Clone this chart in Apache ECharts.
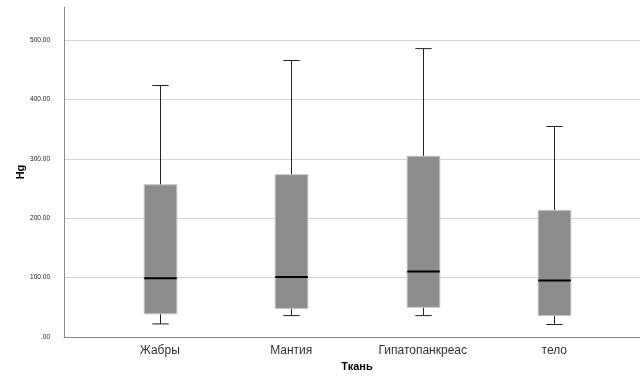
<!DOCTYPE html>
<html><head><meta charset="utf-8">
<script src="https://cdn.jsdelivr.net/npm/echarts@6/dist/echarts.min.js"></script>
<style>html,body{margin:0;padding:0;background:#fff}#c{width:640px;height:380px}</style>
</head><body><div id="c"></div>
<script>
const categories = ['Жабры', 'Мантия', 'Гипатопанкреас', 'тело'];
const minVals = [22, 36, 36, 21];
const q1Vals = [39, 48, 50, 36];
const medianVals = [99, 101, 110, 95];
const q3Vals = [256, 273, 304, 213];
const maxVals = [423, 465, 485, 354];
const yTicks = [0, 100, 200, 300, 400, 500];

const yMin = 0, yMax = 555;
const data = categories.map((c, i) => [i, minVals[i], q1Vals[i], medianVals[i], q3Vals[i], maxVals[i]]);

const chart = echarts.init(document.getElementById('c'), null, {renderer: 'canvas'});
const fmt = v => (v === 0 ? '.00' : v.toFixed(2));
const FONT = 'Liberation Sans, Arial';
chart.setOption({
  animation: false,
  grid: [
    {left: 94, right: 20, top: 7, bottom: 43},
    {left: 64, right: 0, top: 40, bottom: 43}
  ],
  xAxis: [
    {type: 'category', gridIndex: 0, data: categories, boundaryGap: true,
     axisLine: {show: false}, axisTick: {show: false},
     axisLabel: {color: '#333', fontSize: 12, fontFamily: FONT, margin: 8},
     name: 'Ткань', nameLocation: 'middle', nameGap: 21,
     nameTextStyle: {color: '#000', fontWeight: 'bold', fontSize: 11, fontFamily: FONT}},
    {type: 'value', gridIndex: 1, min: 0, max: 1,
     axisLine: {show: true, onZero: false, lineStyle: {color: '#8a8a8a', width: 1}},
     axisTick: {show: false}, axisLabel: {show: false}, splitLine: {show: false}}
  ],
  yAxis: [
    {type: 'value', gridIndex: 0, min: yMin, max: yMax, offset: 30,
     axisLine: {show: true, lineStyle: {color: '#8a8a8a', width: 1}},
     axisTick: {show: false}, axisLabel: {show: false}, splitLine: {show: false},
     name: 'Hg', nameLocation: 'middle', nameGap: 38, nameRotate: 90,
     nameTextStyle: {color: '#000', fontWeight: 'bold', fontSize: 11, fontFamily: FONT}},
    {type: 'value', gridIndex: 1, min: 0, max: 500, interval: 100,
     axisLine: {show: false},
     axisTick: {show: false},
     axisLabel: {color: '#222', fontSize: 6.5, fontFamily: FONT, margin: 14,
       formatter: v => (yTicks.indexOf(v) >= 0 ? fmt(v) : '')},
     splitLine: {show: true, lineStyle: {color: '#d4d4d4', width: 1}}}
  ],
  series: [{
    type: 'custom',
    xAxisIndex: 0, yAxisIndex: 0,
    data: data,
    renderItem: function (params, api) {
      const x = api.value(0);
      const band = api.size([1, 0])[0];
      const bw = band * 0.248;
      const cw = bw * 0.5;
      const pMin = api.coord([x, api.value(1)]);
      const pQ1 = api.coord([x, api.value(2)]);
      const pMed = api.coord([x, api.value(3)]);
      const pQ3 = api.coord([x, api.value(4)]);
      const pMax = api.coord([x, api.value(5)]);
      const cx = Math.round(pMin[0]) + 0.5;
      const line = {stroke: '#222', lineWidth: 1};
      return {type: 'group', children: [
        {type: 'line', shape: {x1: cx, y1: pMax[1], x2: cx, y2: pQ3[1]}, style: line},
        {type: 'line', shape: {x1: cx, y1: pQ1[1], x2: cx, y2: pMin[1]}, style: line},
        {type: 'line', shape: {x1: cx - cw / 2, y1: pMax[1], x2: cx + cw / 2, y2: pMax[1]}, style: line},
        {type: 'line', shape: {x1: cx - cw / 2, y1: pMin[1], x2: cx + cw / 2, y2: pMin[1]}, style: line},
        {type: 'rect', shape: {x: cx - bw / 2, y: pQ3[1], width: bw, height: pQ1[1] - pQ3[1]},
          style: {fill: '#8c8c8c', stroke: '#c4c4c4', lineWidth: 1}},
        {type: 'line', shape: {x1: cx - bw / 2, y1: pMed[1], x2: cx + bw / 2, y2: pMed[1]},
          style: {stroke: '#000', lineWidth: 2}}
      ]};
    }
  }]
});
</script></body></html>
